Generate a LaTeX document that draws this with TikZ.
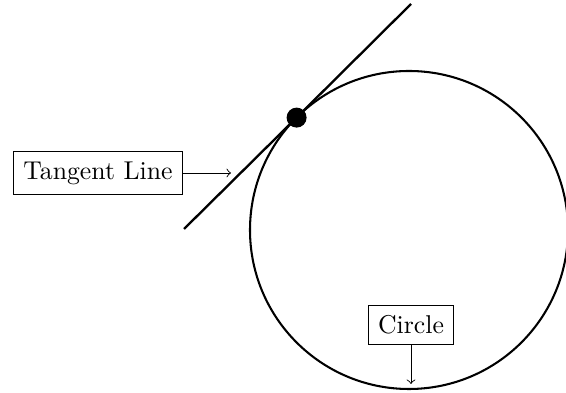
\documentclass[tikz,border=0pt]{standalone}
\begin{document}
\begin{tikzpicture}[x=0.3883pt,y=-0.3883pt,
  label box/.style={draw,line width=0.35pt,inner sep=3.8pt},
  pointer/.style={->,line width=0.35pt}]
\useasboundingbox (0,0) rectangle (566,393);
\node[circle,draw,line width=0.8pt,minimum size=318*0.3883pt,inner sep=0pt] (C) at (409,230) {};
\node[circle,fill=black,minimum size=20*0.3883pt,inner sep=0pt] (P) at (296.6,117.6) {};
\coordinate (T1) at (184,229);
\coordinate (T2) at (411,4);
\draw[line width=0.9pt] (T1) -- (P.center) -- (T2);
\node[label box] (TL) at (98,173) {Tangent Line};
\coordinate (TA) at (231,173);
\draw[pointer] (TL.east) -- (TA);
\node[label box] (CL) at (411,325) {Circle};
\coordinate (CA) at (411,384);
\draw[pointer] (CL.south) -- (CA);
\end{tikzpicture}
\end{document}
